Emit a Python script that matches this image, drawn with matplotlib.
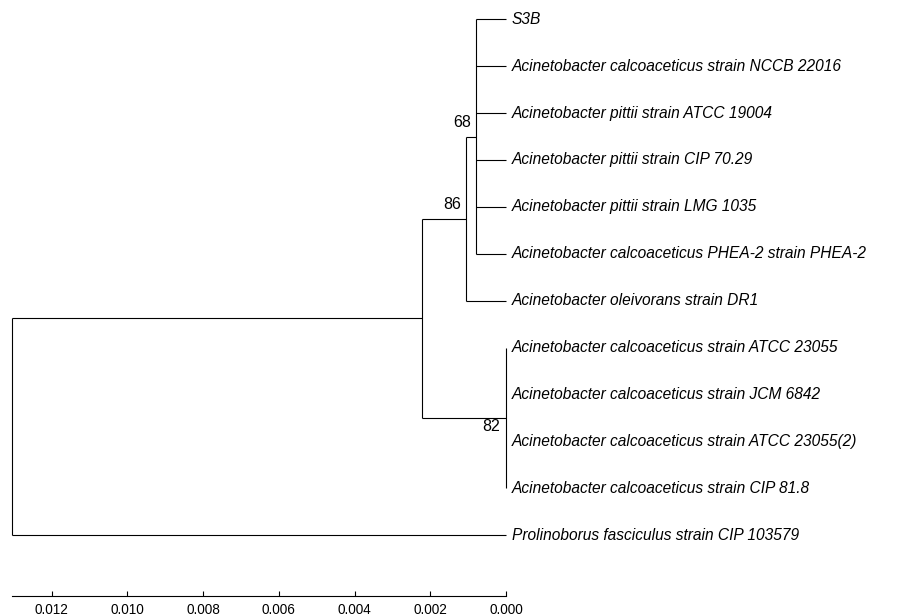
import matplotlib
matplotlib.use("Agg")
import matplotlib.pyplot as plt

plt.rcParams["font.family"] = ["Liberation Sans", "DejaVu Sans"]

# leaves, top to bottom
leaves = [
    "S3B",
    "Acinetobacter calcoaceticus strain NCCB 22016",
    "Acinetobacter pittii strain ATCC 19004",
    "Acinetobacter pittii strain CIP 70.29",
    "Acinetobacter pittii strain LMG 1035",
    "Acinetobacter calcoaceticus PHEA-2 strain PHEA-2",
    "Acinetobacter oleivorans strain DR1",
    "Acinetobacter calcoaceticus strain ATCC 23055",
    "Acinetobacter calcoaceticus strain JCM 6842",
    "Acinetobacter calcoaceticus strain ATCC 23055(2)",
    "Acinetobacter calcoaceticus strain CIP 81.8",
    "Prolinoborus fasciculus strain CIP 103579",
]

# internal nodes: name -> (height from tips, children, bootstrap)
nodes = {
    "n68": (0.00080, [0, 1, 2, 3, 4, 5], "68"),
    "n86": (0.00106, ["n68", 6], "86"),
    "n82": (0.0, [7, 8, 9, 10], "82"),
    "n1": (0.00222, ["n86", "n82"], None),
    "root": (0.01305, ["n1", 11], None),
}
label_side = {"n68": "above", "n86": "above", "n82": "below"}

ticks = [0.012, 0.010, 0.008, 0.006, 0.004, 0.002, 0.000]

fig = plt.figure(figsize=(9.11, 6.16), dpi=100)
ax = fig.add_axes([0, 0, 1, 1])

lw = 0.8
col = "black"


def place(n):
    # returns (x, y) of a node, drawing its subtree
    if isinstance(n, int):
        return 0.0, float(n)
    h, kids, sup = nodes[n]
    pts = [place(k) for k in kids]
    ys = [p[1] for p in pts]
    y = (min(ys) + max(ys)) / 2
    ax.plot([h, h], [min(ys), max(ys)], color=col, lw=lw, solid_capstyle="butt")
    for kx, ky in pts:
        ax.plot([h, kx], [ky, ky], color=col, lw=lw, solid_capstyle="butt")
    if sup:
        if label_side[n] == "above":
            ax.annotate(sup, (h, y), xytext=(-3.6, 4.8), textcoords="offset points",
                        ha="right", va="bottom", fontsize=11.5)
        else:
            ax.annotate(sup, (h, y), xytext=(-4, -0.5), textcoords="offset points",
                        ha="right", va="top", fontsize=11.5)
    return h, y


place("root")

for i, name in enumerate(leaves):
    ax.annotate(name, (0.0, i), xytext=(4, 0), textcoords="offset points",
                ha="left", va="center", fontsize=11.2, style="italic")

# pixel layout: first row at 19px, rows 46.9px apart, 0.000 at x=506
ax.set_xlim(506 / 37858, (506 - 911) / 37858)
ax.set_ylim((616 - 19.3) / 46.9, -19.3 / 46.9)

for s in ["top", "left", "right"]:
    ax.spines[s].set_visible(False)
ax.spines["bottom"].set_position(("data", (595.7 - 19.3) / 46.9))
ax.spines["bottom"].set_bounds(0, nodes["root"][0])
ax.spines["bottom"].set_linewidth(lw)
ax.set_xticks(ticks)
ax.set_xticklabels([f"{t:.3f}" for t in ticks])
ax.tick_params(axis="x", direction="in", length=3.8, width=lw, labelsize=9.8, pad=5.5)
ax.set_yticks([])
ax.patch.set_alpha(0)

fig.savefig("out.png", dpi=100, facecolor="white")
